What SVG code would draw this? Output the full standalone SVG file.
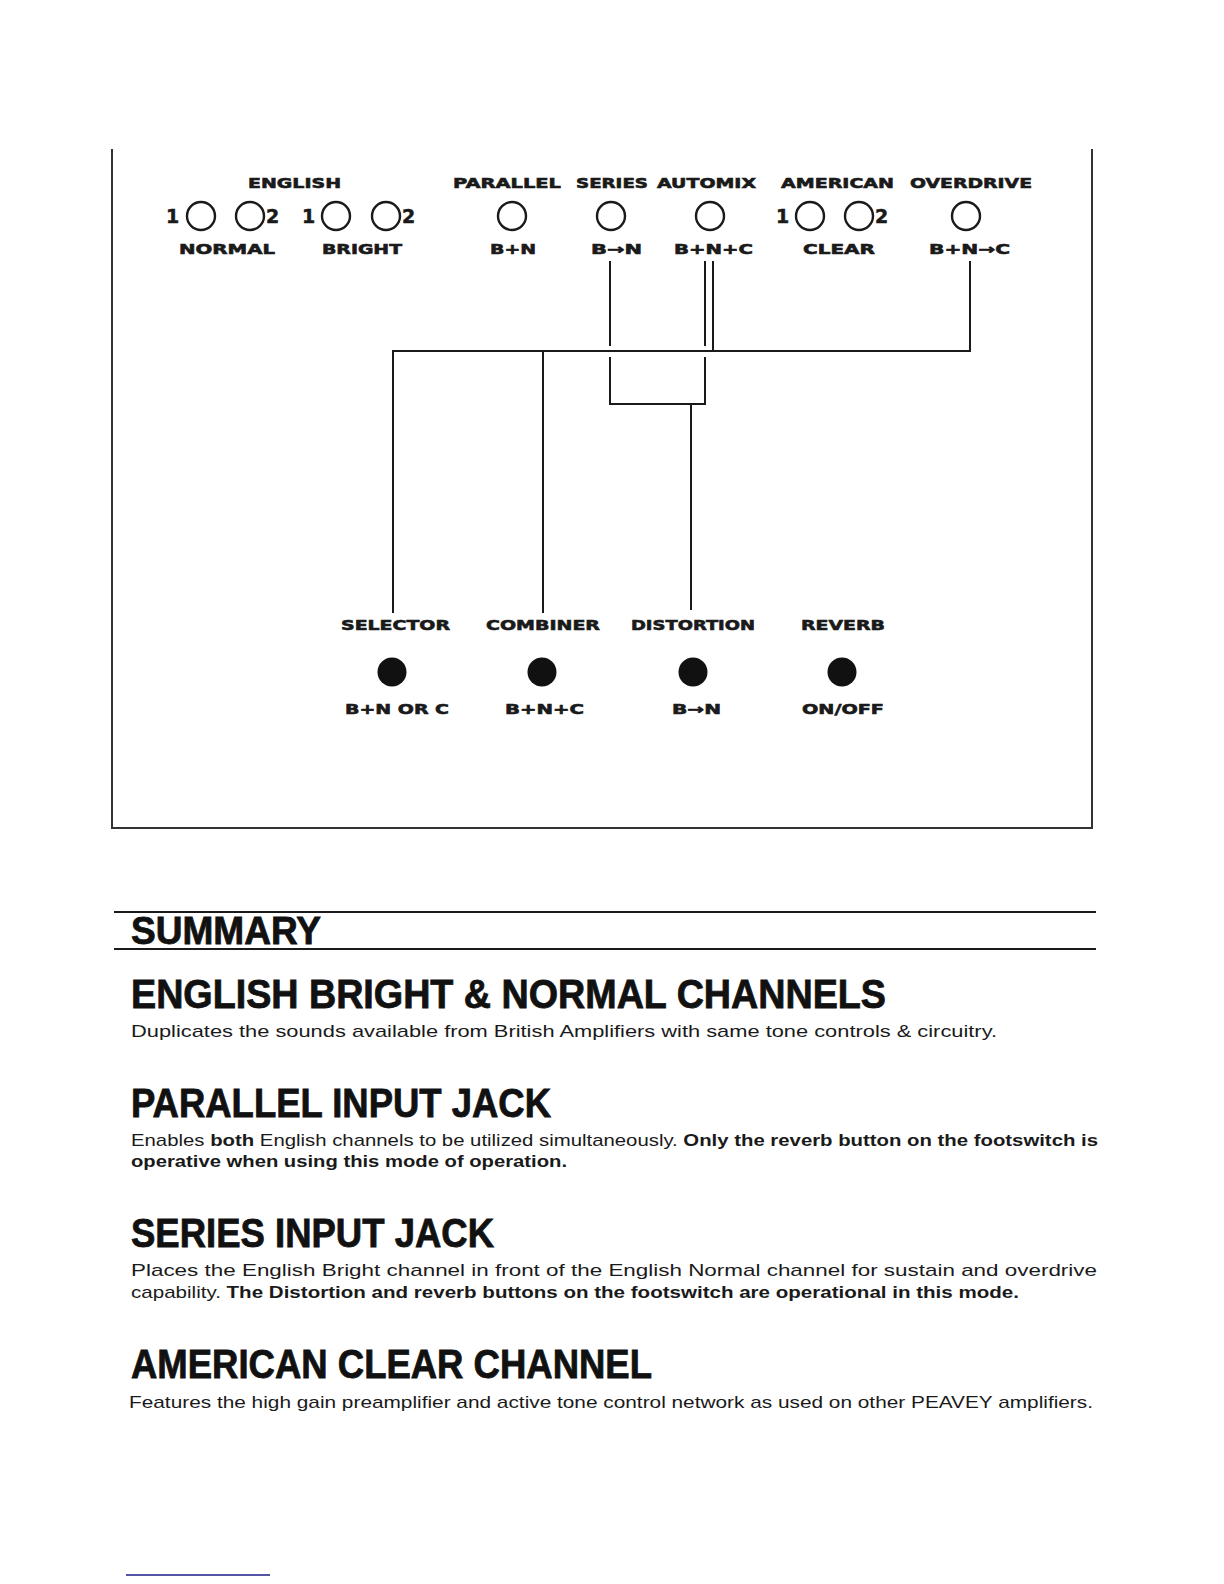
<svg xmlns="http://www.w3.org/2000/svg" width="1224" height="1584" viewBox="0 0 1224 1584">
<style>
.lbl{font-family:"DejaVu Sans","Liberation Sans",sans-serif;font-weight:bold;font-size:14px;fill:#1a1a1a;stroke:#1a1a1a;stroke-width:0.6}
.dig{font-family:"DejaVu Sans","Liberation Sans",sans-serif;font-weight:bold;font-size:19px;fill:#1a1a1a;stroke:#1a1a1a;stroke-width:0.5}
.jack{fill:none;stroke:#1a1a1a;stroke-width:2.4}
.btn{fill:#111}
.wire{fill:none;stroke:#1a1a1a;stroke-width:2}
.frame{fill:none;stroke:#333;stroke-width:2}
.rule{stroke:#1a1a1a;stroke-width:2.2}
.h1{font-family:"Liberation Sans",Arial,sans-serif;font-weight:bold;font-size:38px;fill:#111;stroke:#111;stroke-width:0.8}
.h2{font-family:"Liberation Sans",Arial,sans-serif;font-weight:bold;font-size:40px;fill:#111;stroke:#111;stroke-width:0.8}
.body{font-family:"Liberation Sans",Arial,sans-serif;font-size:17px;fill:#1a1a1a}
.b{font-weight:bold}
</style>
<rect width="1224" height="1584" fill="#fff"/>
<path class="frame" d="M112,149 V828 H1092 V149"/>

<g id="english">
<text class="lbl" x="248" y="188" textLength="93" lengthAdjust="spacingAndGlyphs">ENGLISH</text>
<text class="dig" x="166" y="223">1</text>
<circle class="jack" cx="201" cy="216" r="14"/>
<circle class="jack" cx="250" cy="216" r="14"/>
<text class="dig" x="266" y="223">2</text>
<text class="lbl" x="179" y="254" textLength="96" lengthAdjust="spacingAndGlyphs">NORMAL</text>
<text class="dig" x="302" y="223">1</text>
<circle class="jack" cx="336" cy="216" r="14"/>
<circle class="jack" cx="386" cy="216" r="14"/>
<text class="dig" x="402" y="223">2</text>
<text class="lbl" x="322" y="254" textLength="80" lengthAdjust="spacingAndGlyphs">BRIGHT</text>
</g>
<g id="parallel">
<text class="lbl" x="453" y="188" textLength="108" lengthAdjust="spacingAndGlyphs">PARALLEL</text>
<circle class="jack" cx="512" cy="216" r="14"/>
<text class="lbl" x="490" y="254" textLength="46" lengthAdjust="spacingAndGlyphs">B+N</text>
</g>
<g id="series">
<text class="lbl" x="576" y="188" textLength="72" lengthAdjust="spacingAndGlyphs">SERIES</text>
<circle class="jack" cx="611" cy="216" r="14"/>
<text class="lbl" x="591" y="254" textLength="51" lengthAdjust="spacingAndGlyphs">B→N</text>
</g>
<g id="automix">
<text class="lbl" x="657" y="188" textLength="99" lengthAdjust="spacingAndGlyphs">AUTOMIX</text>
<circle class="jack" cx="710" cy="216" r="14"/>
<text class="lbl" x="674" y="254" textLength="79" lengthAdjust="spacingAndGlyphs">B+N+C</text>
</g>
<g id="american">
<text class="lbl" x="781" y="188" textLength="113" lengthAdjust="spacingAndGlyphs">AMERICAN</text>
<text class="dig" x="776" y="223">1</text>
<circle class="jack" cx="810" cy="216" r="14"/>
<circle class="jack" cx="859" cy="216" r="14"/>
<text class="dig" x="875" y="223">2</text>
<text class="lbl" x="803" y="254" textLength="72" lengthAdjust="spacingAndGlyphs">CLEAR</text>
</g>
<g id="overdrive">
<text class="lbl" x="910" y="188" textLength="122" lengthAdjust="spacingAndGlyphs">OVERDRIVE</text>
<circle class="jack" cx="966" cy="216" r="14"/>
<text class="lbl" x="929" y="254" textLength="81" lengthAdjust="spacingAndGlyphs">B+N→C</text>
</g>

<g id="connectors">
<path class="wire" d="M393,613 V351 H970 V261"/>
<path class="wire" d="M543,613 V351"/>
<path class="wire" d="M713,261 V351"/>
<path class="wire" d="M610,261 V346 M610,357 V404 H705 V357 M705,346 V261"/>
<path class="wire" d="M691,404 V610"/>
</g>

<g id="selector">
<text class="lbl" x="341" y="630" textLength="109" lengthAdjust="spacingAndGlyphs">SELECTOR</text>
<circle class="btn" cx="392" cy="672" r="14.5"/>
<text class="lbl" x="345" y="714" textLength="104" lengthAdjust="spacingAndGlyphs">B+N OR C</text>
</g>
<g id="combiner">
<text class="lbl" x="486" y="630" textLength="114" lengthAdjust="spacingAndGlyphs">COMBINER</text>
<circle class="btn" cx="542" cy="672" r="14.5"/>
<text class="lbl" x="505" y="714" textLength="79" lengthAdjust="spacingAndGlyphs">B+N+C</text>
</g>
<g id="distortion">
<text class="lbl" x="631" y="630" textLength="124" lengthAdjust="spacingAndGlyphs">DISTORTION</text>
<circle class="btn" cx="693" cy="672" r="14.5"/>
<text class="lbl" x="672" y="714" textLength="49" lengthAdjust="spacingAndGlyphs">B→N</text>
</g>
<g id="reverb">
<text class="lbl" x="801" y="630" textLength="84" lengthAdjust="spacingAndGlyphs">REVERB</text>
<circle class="btn" cx="842" cy="672" r="14.5"/>
<text class="lbl" x="802" y="714" textLength="82" lengthAdjust="spacingAndGlyphs">ON/OFF</text>
</g>

<g id="summary">
<line class="rule" x1="114" y1="912" x2="1096" y2="912"/>
<text class="h1" x="131" y="944" textLength="190" lengthAdjust="spacingAndGlyphs">SUMMARY</text>
<line class="rule" x1="114" y1="949" x2="1096" y2="949"/>

<text class="h2" x="131" y="1008" textLength="755" lengthAdjust="spacingAndGlyphs">ENGLISH BRIGHT &amp; NORMAL CHANNELS</text>
<text class="body" x="131" y="1037" textLength="866" lengthAdjust="spacingAndGlyphs">Duplicates the sounds available from British Amplifiers with same tone controls &amp; circuitry.</text>

<text class="h2" x="131" y="1117" textLength="420" lengthAdjust="spacingAndGlyphs">PARALLEL INPUT JACK</text>
<text class="body" x="131" y="1146" textLength="967" lengthAdjust="spacingAndGlyphs">Enables <tspan class="b">both</tspan> English channels to be utilized simultaneously. <tspan class="b">Only the reverb button on the footswitch is</tspan></text>
<text class="body b" x="131" y="1167" textLength="436" lengthAdjust="spacingAndGlyphs">operative when using this mode of operation.</text>

<text class="h2" x="131" y="1247" textLength="363" lengthAdjust="spacingAndGlyphs">SERIES INPUT JACK</text>
<text class="body" x="131" y="1276" textLength="966" lengthAdjust="spacingAndGlyphs">Places the English Bright channel in front of the English Normal channel for sustain and overdrive</text>
<text class="body" x="131" y="1298" textLength="888" lengthAdjust="spacingAndGlyphs">capability. <tspan class="b">The Distortion and reverb buttons on the footswitch are operational in this mode.</tspan></text>

<text class="h2" x="131" y="1378" textLength="521" lengthAdjust="spacingAndGlyphs">AMERICAN CLEAR CHANNEL</text>
<text class="body" x="129" y="1408" textLength="964" lengthAdjust="spacingAndGlyphs">Features the high gain preamplifier and active tone control network as used on other PEAVEY amplifiers.</text>
</g>

<line x1="126" y1="1575" x2="270" y2="1575" stroke="#1a1a8a" stroke-width="1.5"/>
</svg>
